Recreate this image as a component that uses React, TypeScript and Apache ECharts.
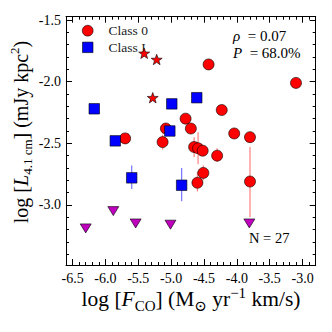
import React, { useEffect, useRef } from 'react';
import * as echarts from 'echarts';

const FONT = 'Liberation Serif, DejaVu Serif, serif';

// tick labels
const xTicks = [-6.5, -6.0, -5.5, -5.0, -4.5, -4.0, -3.5, -3.0];
const yTicks = [-3.0, -2.5, -2.0, -1.5];

// legend labels
const legendNames = ['Class 0', 'Class I'];

// Class 0 (red circles)
const class0X = [-4.43, -3.10, -4.23, -4.78, -5.08, -4.70, -4.04, -3.80, -5.70, -5.13, -4.65, -4.59, -4.52, -4.30, -4.51, -4.60, -3.80];
const class0Y = [-1.86, -2.01, -2.23, -2.30, -2.38, -2.38, -2.42, -2.45, -2.46, -2.49, -2.53, -2.54, -2.56, -2.60, -2.74, -2.82, -2.81];

// Class I (blue squares)
const class1X = [-6.17, -4.99, -4.61, -5.02, -5.85, -5.60, -4.84];
const class1Y = [-2.22, -2.18, -2.13, -2.40, -2.48, -2.78, -2.84];

// red stars
const starX = [-5.41, -5.22, -5.28];
const starY = [-1.77, -1.82, -2.13];

// upper limits (purple down-triangles)
const limitX = [-6.30, -5.88, -5.54, -5.01, -3.81];
const limitY = [-3.19, -3.05, -3.15, -3.16, -3.15];

// error bars
const class0ErrX = [-3.80, -4.59, -4.65, -4.30, -4.51, -4.60, -5.13];
const class0ErrLow = [-3.10, -2.67, -2.61, -2.65, -2.80, -2.89, -2.55];
const class0ErrHigh = [-2.53, -2.41, -2.45, -2.54, -2.68, -2.73, -2.43];
const class1ErrX = [-4.84, -5.60];
const class1ErrLow = [-2.97, -2.87];
const class1ErrHigh = [-2.70, -2.68];

const X_MIN = -6.6, X_MAX = -2.8;
const Y_MIN = -3.487, Y_MAX = -1.473;

const STAR = 'path://M0,-10 L2.35,-3.24 L9.51,-3.09 L3.8,1.24 L5.88,8.09 L0,4 L-5.88,8.09 L-3.8,1.24 L-9.51,-3.09 L-2.35,-3.24 Z';

function range(a: number, b: number, step: number) {
  const out: number[] = [];
  for (let i = Math.round(a / step); i <= Math.round(b / step); i++) out.push(+(i * step).toFixed(3));
  return out;
}

const xMinor = range(-6.6, -2.8, 0.1);
const yMinor = range(-3.4, -1.5, 0.1);

function makeAxis(min: number, max: number, position: string, values: number[], len: number, line: boolean, label: boolean, margin: number) {
  return {
    type: 'value',
    min,
    max,
    position,
    splitLine: { show: false },
    axisLine: { show: line, onZero: false, lineStyle: { color: '#000', width: 1 } },
    axisTick: { show: true, inside: true, length: len, customValues: values, lineStyle: { color: '#000', width: 1 } },
    axisLabel: label
      ? { show: true, customValues: values, formatter: (v: number) => v.toFixed(1), fontFamily: FONT, fontSize: 14, color: '#000', margin }
      : { show: false },
  };
}

function errRenderer(color: string) {
  return (params: any, api: any) => {
    const p1 = api.coord([api.value(0), api.value(1)]);
    const p2 = api.coord([api.value(0), api.value(2)]);
    return {
      type: 'line',
      shape: { x1: p1[0], y1: p1[1], x2: p2[0], y2: p2[1] },
      style: { stroke: color, lineWidth: 1.2 },
    };
  };
}

export default function App() {
  const ref = useRef<HTMLDivElement>(null);
  useEffect(() => {
    if (!ref.current) return;
    const chart = echarts.init(ref.current, null, { renderer: 'svg' });
    const class0 = class0X.map((x, i) => [x, class0Y[i]]);
    const class1 = class1X.map((x, i) => [x, class1Y[i]]);
    const stars = starX.map((x, i) => [x, starY[i]]);
    const limits = limitX.map((x, i) => [x, limitY[i]]);
    const err0 = class0ErrX.map((x, i) => [x, class0ErrLow[i], class0ErrHigh[i]]);
    const err1 = class1ErrX.map((x, i) => [x, class1ErrLow[i], class1ErrHigh[i]]);

    const edge = { borderColor: '#000', borderWidth: 0.6 };

    chart.setOption({
      animation: false,
      backgroundColor: '#fff',
      textStyle: { fontFamily: FONT },
      grid: { left: 66, right: 16.3, top: 16.7, bottom: 67, containLabel: false },
      xAxis: [
        makeAxis(X_MIN, X_MAX, 'bottom', xTicks, 6, true, true, 6),
        makeAxis(X_MIN, X_MAX, 'top', xTicks, 6, true, false, 0),
        makeAxis(X_MIN, X_MAX, 'bottom', xMinor, 3, false, false, 0),
        makeAxis(X_MIN, X_MAX, 'top', xMinor, 3, false, false, 0),
      ],
      yAxis: [
        makeAxis(Y_MIN, Y_MAX, 'left', yTicks, 6, true, true, 5),
        makeAxis(Y_MIN, Y_MAX, 'right', yTicks, 6, true, false, 0),
        makeAxis(Y_MIN, Y_MAX, 'left', yMinor, 3, false, false, 0),
        makeAxis(Y_MIN, Y_MAX, 'right', yMinor, 3, false, false, 0),
      ],
      graphic: [
        // legend
        { type: 'circle', shape: { cx: 87.7, cy: 30.7, r: 5.4 }, style: { fill: '#ff0000', stroke: '#000', lineWidth: 0.6 }, z: 10 },
        { type: 'rect', shape: { x: 82.5, y: 42.1, width: 10.5, height: 10.5 }, style: { fill: '#0000ff', stroke: '#000', lineWidth: 0.6 }, z: 10 },
        { type: 'text', x: 108.5, y: 30.7, style: { text: legendNames[0], fontFamily: FONT, fontSize: 13.5, fill: '#222', verticalAlign: 'middle' }, z: 10 },
        { type: 'text', x: 108.5, y: 47.3, style: { text: legendNames[1], fontFamily: FONT, fontSize: 13.5, fill: '#222', verticalAlign: 'middle' }, z: 1 },
        {
          type: 'text',
          x: 191,
          y: 299,
          style: {
            text: '{n|log [}{i|F}{s|CO}{n|] (M}{s|⊙}{n| yr}{p|−1}{n| km/s)}',
            align: 'center',
            verticalAlign: 'middle',
            fill: '#000',
            rich: {
              n: { fontFamily: FONT, fontSize: 21.5, lineHeight: 28, verticalAlign: 'middle', fill: '#000' },
              i: { fontFamily: FONT, fontSize: 21.5, fontStyle: 'italic', lineHeight: 28, verticalAlign: 'middle', fill: '#000' },
              s: { fontFamily: FONT, fontSize: 15, verticalAlign: 'bottom', fill: '#000' },
              p: { fontFamily: FONT, fontSize: 15, verticalAlign: 'top', fill: '#000' },
            },
          },
        },
        {
          type: 'text',
          x: 21,
          y: 132,
          rotation: Math.PI / 2,
          style: {
            text: '{n|log [}{i|L}{s|4.1 cm}{n|] (mJy kpc}{p|2}{n|)}',
            align: 'center',
            verticalAlign: 'middle',
            fill: '#000',
            rich: {
              n: { fontFamily: FONT, fontSize: 20, lineHeight: 26, verticalAlign: 'middle', fill: '#000' },
              i: { fontFamily: FONT, fontSize: 20, fontStyle: 'italic', lineHeight: 26, verticalAlign: 'middle', fill: '#000' },
              s: { fontFamily: FONT, fontSize: 13, verticalAlign: 'bottom', fill: '#000' },
              p: { fontFamily: FONT, fontSize: 13, verticalAlign: 'top', fill: '#000' },
            },
          },
        },
        {
          type: 'text',
          left: 233,
          top: 28,
          style: {
            text: '{i|ρ}  = 0.07\n{i|P}  = 68.0%',
            fontFamily: FONT,
            fontSize: 15,
            lineHeight: 16.5,
            fill: '#000',
            rich: { i: { fontFamily: FONT, fontSize: 15, fontStyle: 'italic', lineHeight: 16.5, fill: '#000' } },
          },
        },
        {
          type: 'text',
          left: 249,
          top: 230,
          style: { text: 'N = 27', fontFamily: FONT, fontSize: 14.5, fill: '#000' },
        },
      ],
      series: [
        {
          type: 'custom',
          name: 'err0',
          renderItem: errRenderer('rgba(255,0,0,0.5)'),
          data: err0,
          encode: { x: 0, y: [1, 2] },
          z: 1,
        },
        {
          type: 'custom',
          name: 'err1',
          renderItem: errRenderer('rgba(0,0,255,0.55)'),
          data: err1,
          encode: { x: 0, y: [1, 2] },
          z: 1,
        },
        {
          type: 'scatter',
          name: 'Class 0',
          symbol: 'circle',
          symbolSize: 11,
          data: class0,
          itemStyle: { color: '#ff0000', ...edge, opacity: 1 },
          z: 3,
        },
        {
          type: 'scatter',
          name: 'Class I',
          symbol: 'rect',
          symbolSize: 10.5,
          data: class1,
          itemStyle: { color: '#0000ff', ...edge, opacity: 1 },
          z: 3,
        },
        {
          type: 'scatter',
          name: 'stars',
          symbol: STAR,
          symbolKeepAspect: true,
          symbolSize: 11,
          data: stars,
          itemStyle: { color: '#ff0000', ...edge, opacity: 1 },
          z: 3,
        },
        {
          type: 'scatter',
          name: 'limits',
          symbol: 'triangle',
          symbolRotate: 180,
          symbolSize: [11, 9],
          data: limits,
          itemStyle: { color: '#bf00bf', ...edge, opacity: 1 },
          z: 3,
        },
      ],
    });
    return () => chart.dispose();
  }, []);
  return <div ref={ref} style={{ position: 'fixed', left: 0, top: 0, width: 332, height: 332, background: '#fff' }} />;
}
